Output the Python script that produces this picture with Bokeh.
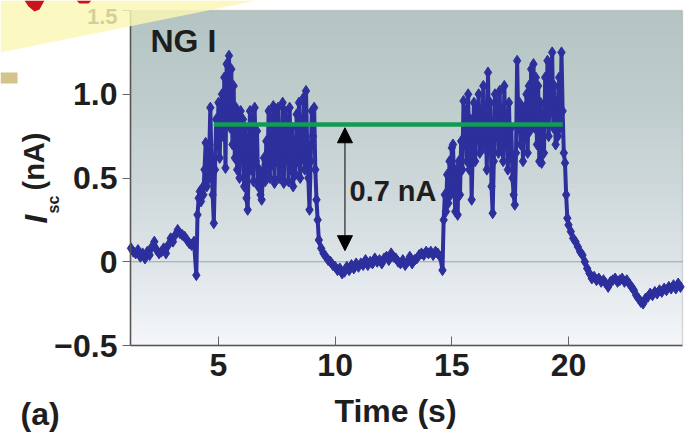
import numpy as np
from bokeh.plotting import figure
from bokeh.models import (Range1d, FixedTicker, Label, Arrow, NormalHead,
                          PolyAnnotation, BoxAnnotation)
from bokeh.embed import file_html
from bokeh.resources import INLINE

# ---------------- data ----------------
# baseline before first pressing, sampled every 0.1 s from 1.25 s
seg_a_start, seg_a_step = 1.25, 0.1
seg_a = [0.08, 0.06, 0.05, 0.07, 0.03, 0.05, 0.02, 0.06, 0.04, 0.09,
         0.12, 0.07, 0.05, 0.06, 0.08, 0.05, 0.10, 0.14, 0.12, 0.16,
         0.19, 0.17, 0.16, 0.15, 0.13, 0.11, 0.10, 0.12, -0.08]

# first "on" period, every 0.05 s from 4.10 s
seg_b_start, seg_b_step = 4.10, 0.05
seg_b = [0.28, 0.38, 0.42, 0.36, 0.44, 0.40, 0.55, 0.71, 0.45, 0.49,
         0.62, 0.92, 0.60, 0.40, 0.23, 0.55, 0.85, 0.70, 0.95, 0.62,
         0.88, 1.00, 0.75, 1.10, 0.56, 1.18, 0.90, 1.23, 0.80, 1.15,
         0.70, 1.05, 0.62, 0.92, 0.55, 0.88, 0.50, 0.90, 0.62, 0.85,
         0.45, 0.80, 0.38, 0.31, 0.60, 0.90, 0.55, 0.85, 0.48, 0.92,
         0.60, 0.78, 0.45, 0.55, 0.40, 0.37, 0.50, 0.62, 0.48, 0.72,
         0.55, 0.90, 0.50, 0.85, 0.58, 0.93, 0.47, 0.88, 0.60, 0.92,
         0.50, 0.80, 0.55, 0.95, 0.47, 0.90, 0.62, 0.85, 0.48, 0.92,
         0.55, 0.80, 0.45, 0.70, 0.52, 0.88, 0.60, 0.95, 0.50, 0.85,
         0.62, 0.98, 0.55, 1.02, 0.70, 0.50, 0.31, 0.60, 0.90, 0.75,
         0.92, 0.55, 0.37, 0.25, 0.13]

# "off" period, every 0.1 s from 9.4 s
seg_c_start, seg_c_step = 9.4, 0.1
seg_c = [0.08, 0.05, 0.03, 0.01, 0.00, -0.02, -0.03, -0.05, -0.04, -0.07,
         -0.06, -0.03, -0.05, -0.02, -0.04, -0.01, -0.03, -0.01, -0.02, 0.01,
         -0.02, 0.00, -0.01, 0.02, 0.00, 0.01, -0.01, 0.02, 0.03, 0.01,
         0.05, 0.03, 0.02, 0.00, -0.01, 0.01, -0.02, 0.00, 0.03, -0.01,
         0.01, 0.02, 0.04, 0.05, 0.04, 0.06, 0.05, 0.06, 0.04, 0.06,
         0.05, 0.03, -0.05]

# second "on" period, every 0.05 s from 14.65 s
seg_d_start, seg_d_step = 14.65, 0.05
seg_d = [0.25, 0.40, 0.30, 0.52, 0.35, 0.60, 0.40, 0.68, 0.70, 0.45,
         0.30, 0.55, 0.28, 0.60, 0.40, 0.72, 0.55, 0.96, 0.70, 0.90,
         0.60, 1.00, 0.55, 0.85, 0.37, 0.70, 0.95, 0.60, 0.90, 0.75,
         1.00, 0.65, 0.88, 0.72, 1.05, 0.68, 0.85, 0.55, 1.13, 0.70,
         0.95, 0.45, 0.29, 0.60, 1.00, 0.75, 0.95, 0.65, 1.02, 0.70,
         0.90, 0.60, 1.05, 0.72, 0.85, 0.55, 0.95, 0.62, 0.80, 0.50,
         0.40, 0.34, 0.65, 1.20, 0.80, 0.95, 0.70, 0.88, 0.60, 0.92,
         0.75, 1.00, 0.65, 1.05, 0.78, 1.15, 0.85, 1.18, 0.80, 1.10,
         0.70, 1.05, 0.60, 0.95, 0.59, 0.80, 0.65, 1.10, 0.85, 1.20,
         0.75, 1.15, 0.90, 1.25, 0.80, 1.05, 0.70, 0.95, 0.75, 1.10,
         0.80, 1.25, 0.90, 0.65, 0.59, 0.40, 0.26]

# decay after release, every 0.1 s from 20.0 s
seg_e_start, seg_e_step = 20.0, 0.1
seg_e = [0.22, 0.18, 0.14, 0.12, 0.09, 0.06, 0.04, 0.00, -0.04, -0.07,
         -0.10, -0.09, -0.11, -0.10, -0.12, -0.11, -0.13, -0.15, -0.12, -0.11,
         -0.10, -0.12, -0.11, -0.10, -0.12, -0.11, -0.13, -0.15, -0.17, -0.20,
         -0.22, -0.24, -0.25, -0.22, -0.21, -0.19, -0.20, -0.18, -0.19, -0.17,
         -0.18, -0.16, -0.17, -0.15, -0.16, -0.14, -0.16, -0.13, -0.15]

# average "on" level (green line) and the 0.7 nA arrow
green_x = [4.8, 19.75]
green_y = [0.82, 0.82]
arrow_x = 10.42
arrow_y = [0.80, 0.066]

x_ticks = [5, 10, 15, 20]
y_ticks = [-0.5, 0, 0.5, 1, 1.5]
y_tick_labels = ["\u22120.5", "0", "0.5", "1.0", ""]   # "1.5" drawn separately
top_tick_label = "1.5"
X0, X1 = 1.229, 24.886      # visible time span of the plot box
Y0, Y1 = -0.5, 1.5

# ---------------- layout (pixels) ----------------
W, H = 688, 435
BOX_L, BOX_R, BOX_T, BOX_B = 130, 682, 10, 345
sxp = (X1 - X0) / (BOX_R - BOX_L)
syp = (Y1 - Y0) / (BOX_B - BOX_T)
XR = Range1d(X0 - BOX_L * sxp, X1 + (W - BOX_R) * sxp)
YR = Range1d(Y0 - (H - BOX_B) * syp, Y1 + BOX_T * syp)

def scr(px, py):
    """page pixel -> screen units of the (full-canvas) frame"""
    return px, H - py

# ---------------- build series ----------------
segs = [(seg_a_start, seg_a_step, seg_a), (seg_b_start, seg_b_step, seg_b),
        (seg_c_start, seg_c_step, seg_c), (seg_d_start, seg_d_step, seg_d),
        (seg_e_start, seg_e_step, seg_e)]
t = np.concatenate([s0 + st * np.arange(len(v)) for s0, st, v in segs])
isc = np.concatenate([np.array(v, dtype=float) for _, _, v in segs])

BLUE = "#2c2f9c"
FONT = "Liberation Sans"
TXT = "#1e1e1e"

p = figure(width=W, height=H, x_range=XR, y_range=YR,
           output_backend="svg", toolbar_location=None, min_border=0)
p.min_border_left = p.min_border_right = p.min_border_top = p.min_border_bottom = 0
p.outline_line_color = None
p.background_fill_color = "white"
p.border_fill_color = "white"
p.xgrid.visible = False
p.ygrid.visible = False

# background vertical gradient of the plot box (styling)
stops_v = [Y0, 0.0, 0.5, 1.0, Y1]
stops_c = np.array([[245, 247, 250], [222, 229, 233], [205, 215, 217],
                    [190, 204, 204], [180, 197, 196]], dtype=float)
nrow = 200
vv = np.linspace(Y0, Y1, nrow)
img = np.zeros((nrow, 1), dtype=np.uint32)
view = img.view(dtype=np.uint8).reshape((nrow, 1, 4))
for ch in range(3):
    view[:, 0, ch] = np.interp(vv, stops_v, stops_c[:, ch]).astype(np.uint8)
view[:, 0, 3] = 255
p.image_rgba(image=[img], x=X0, y=Y0, dw=X1 - X0, dh=Y1 - Y0, level="image")

# plot-box outline and zero line
p.add_layout(BoxAnnotation(left=X0, right=X1, bottom=Y0, top=Y1,
                           fill_color=None, fill_alpha=0,
                           line_color="#8c8c8c", line_width=1.5,
                           level="underlay"))
p.add_layout(BoxAnnotation(left=X0, right=X1, bottom=0, top=0,
                           fill_color=None, fill_alpha=0,
                           line_color="#6a6a6a", line_width=1,
                           level="underlay"))

# the trace
p.line(t, isc, line_color=BLUE, line_width=4)
p.scatter(t, isc, marker="diamond", size=11, fill_color=BLUE, line_color=BLUE)

# green mean line
p.line(green_x, green_y, line_color="#139a55", line_width=4.5)

# double arrow
p.add_layout(Arrow(start=NormalHead(size=15, fill_color="black", line_color="black"),
                   end=NormalHead(size=15, fill_color="black", line_color="black"),
                   x_start=arrow_x, y_start=arrow_y[0], x_end=arrow_x, y_end=arrow_y[1],
                   line_color="black", line_width=1))

# axes, drawn at the edges of the plot box
xa = p.xaxis[0]
xa.fixed_location = Y0
xa.bounds = (X0, X1)
xa.ticker = FixedTicker(ticks=x_ticks)
xa.major_tick_in = 9
xa.major_tick_out = 0
xa.minor_tick_line_color = None
xa.axis_line_color = "#555555"
xa.axis_line_width = 1.5
xa.major_tick_line_color = "#666666"
xa.major_label_text_font = FONT
xa.major_label_text_font_style = "bold"
xa.major_label_text_font_size = "32px"
xa.major_label_text_color = TXT
xa.major_label_standoff = 8

ya = p.yaxis[0]
ya.fixed_location = X0
ya.bounds = (Y0, Y1)
ya.ticker = FixedTicker(ticks=y_ticks)
ya.major_label_overrides = dict(zip(y_ticks, y_tick_labels))
ya.major_tick_in = 0
ya.major_tick_out = 8
ya.minor_tick_line_color = None
ya.axis_line_color = "#555555"
ya.axis_line_width = 1.5
ya.major_tick_line_color = "#666666"
ya.major_label_text_font = FONT
ya.major_label_text_font_style = "bold"
ya.major_label_text_font_size = "32px"
ya.major_label_text_color = TXT
ya.major_label_standoff = 5

# texts; (px, py) is where the baseline starts in page pixels
BASE_SHIFT = 0.33   # measured offset of rendered baseline, in em

def lab(text, px, py, size, style="bold", align="left", rotated=False, color=TXT):
    if rotated:
        px = px - BASE_SHIFT * size
    else:
        py = py - BASE_SHIFT * size
    sx, sy = scr(px, py)
    p.add_layout(Label(x=sx, y=sy, x_units="screen", y_units="screen", text=text,
                       text_font=FONT, text_font_style=style,
                       text_font_size=f"{size}px", text_align=align,
                       text_baseline="alphabetic",
                       angle=(np.pi / 2 if rotated else 0.0),
                       text_color=color))

lab(top_tick_label, 117, 23, 22, align="right")
lab("NG I", 150, 51, 32)
lab("0.7 nA", 349, 200, 29)
lab("Time (s)", 395, 421, 32, align="center")
lab("(a)", 20, 424, 32)
# y-axis title: I_sc (nA), rotated
lab("I", 46, 223, 31, style="bold italic", rotated=True)
lab("sc", 58, 213, 16, rotated=True)
lab("(nA)", 43, 190, 29, rotated=True)

# pieces of the source page around the chart: yellow sheet, tan bar, red mark
def poly(pts, color, alpha):
    xs = [scr(a, b)[0] for a, b in pts]
    ys = [scr(a, b)[1] for a, b in pts]
    p.add_layout(PolyAnnotation(xs=xs, ys=ys, xs_units="screen", ys_units="screen",
                                fill_color=color, fill_alpha=alpha, line_color=None))

poly([(0, 0), (257, 0), (0, 52)], "#fbf7b4", 0.82)
poly([(0, 72), (17, 72), (17, 83), (0, 83)], "#d4c48a", 1.0)
poly([(24, 0), (44, 0), (39, 9), (34, 11), (28, 6)], "#c8141e", 1.0)
poly([(76, 0), (91, 0), (88, 3), (79, 3)], "#c8141e", 1.0)

open("out.html", "w").write(file_html(p, INLINE))
